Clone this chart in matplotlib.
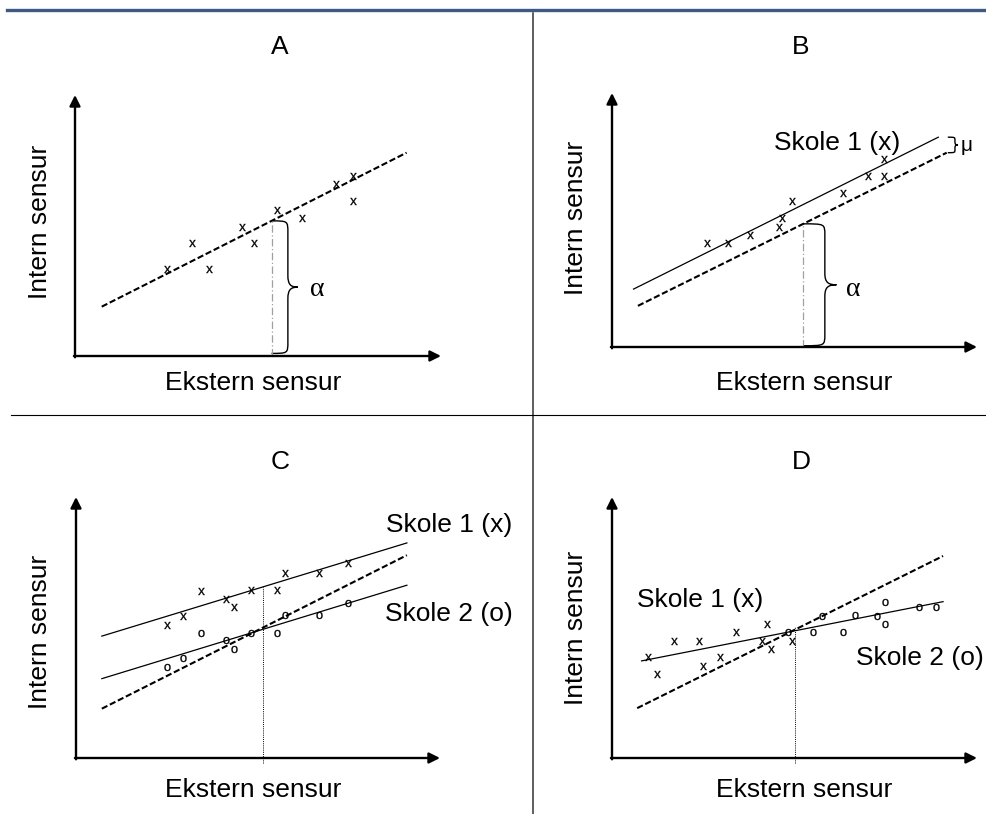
import matplotlib
matplotlib.use("Agg")
import matplotlib.pyplot as plt
from matplotlib.lines import Line2D
from matplotlib.path import Path
from matplotlib.patches import PathPatch
import numpy as np

plt.rcParams['font.family'] = ['Liberation Sans', 'DejaVu Sans']

FIG_W, FIG_H = 987, 814

# ------------------------------------------------------------
# Data (panel units: 0..10 on both axes, origin at axis corner)
# ------------------------------------------------------------

# Panel A: one common line, school 1 points
A_ref_x = [0.73, 9.06]
A_ref_y = [1.89, 7.79]
A_vline_x = 5.37
A_pts_x = [2.51, 3.20, 3.66, 4.57, 4.90, 5.51, 6.21, 7.12, 7.59, 7.59]
A_pts_y = [3.32, 4.34, 3.32, 4.95, 4.34, 5.59, 5.30, 6.59, 6.91, 5.94]

# Panel B: school 1 line shifted by mu above the reference line
B_s1_x = [0.59, 8.94]
B_s1_y = [2.28, 8.26]
B_ref_x = [0.71, 9.17]
B_ref_y = [1.62, 7.65]
B_vline_x = 5.24
B_pts_x = [2.60, 3.18, 3.78, 4.57, 4.67, 4.92, 6.32, 7.02, 7.45, 7.45]
B_pts_y = [4.09, 4.09, 4.42, 4.74, 5.07, 5.76, 6.06, 6.74, 7.42, 6.74]

# Panel C: two parallel school lines + reference
C_s1_x = [0.71, 9.09]
C_s1_y = [4.67, 8.24]
C_s2_x = [0.71, 9.09]
C_s2_y = [3.04, 6.62]
C_ref_x = [0.71, 9.09]
C_ref_y = [1.89, 7.77]
C_vline_x = 5.13
C_x_x = [2.51, 2.95, 3.44, 4.12, 4.35, 4.81, 5.52, 5.75, 6.68, 7.48]
C_x_y = [5.11, 5.44, 6.40, 6.11, 5.79, 6.43, 6.43, 7.07, 7.07, 7.49]
C_o_x = [2.51, 2.95, 3.44, 4.12, 4.35, 4.81, 5.52, 5.75, 6.68, 7.48]
C_o_y = [3.49, 3.83, 4.80, 4.51, 4.16, 4.80, 4.80, 5.47, 5.47, 5.94]

# Panel D: flatter common line, schools on each side
D_s_x = [0.81, 9.07]
D_s_y = [3.72, 5.99]
D_ref_x = [0.69, 9.07]
D_ref_y = [1.91, 7.74]
D_vline_x = 5.01
D_vline_top = 5.03
D_x_x = [0.99, 1.22, 1.69, 2.38, 2.50, 2.96, 3.41, 4.24, 4.12, 4.35, 4.94]
D_x_y = [3.88, 3.22, 4.50, 4.50, 3.53, 3.86, 4.82, 5.13, 4.50, 4.17, 4.50]
D_o_x = [4.81, 5.52, 5.76, 6.32, 6.66, 7.26, 7.48, 7.48, 8.40, 8.87]
D_o_y = [4.84, 4.82, 5.45, 4.82, 5.48, 5.45, 5.96, 5.12, 5.79, 5.79]

TITLES = ["A", "B", "C", "D"]
XLABEL = "Ekstern sensur"
YLABEL = "Intern sensur"


# ------------------------------------------------------------
# Helpers
# ------------------------------------------------------------

def px(x, y):
    return x / FIG_W, 1 - y / FIG_H


def make_axes(fig, ox, oy, tip_x, tip_y):
    w = tip_x - ox
    h = oy - tip_y
    ax = fig.add_axes([ox / FIG_W, 1 - oy / FIG_H, w / FIG_W, h / FIG_H])
    ax.set_xlim(0, 10)
    ax.set_ylim(0, 10)
    ax.axis("off")
    arrow = dict(arrowstyle="-|>", color="black", lw=1.7, mutation_scale=16,
                 shrinkA=0, shrinkB=0)
    ax.annotate("", xy=(10, 0), xytext=(-0.03, 0), arrowprops=arrow,
                annotation_clip=False)
    ax.annotate("", xy=(0, 10), xytext=(0, -0.05), arrowprops=arrow,
                annotation_clip=False)
    return ax


def interp(xs, ys, x):
    return float(np.interp(x, xs, ys))


def brace(ax, x0, y0, y1, w, r, frac=0.62, lw=1.0):
    xm = x0 + frac * w
    xt = x0 + w
    ym = (y0 + y1) / 2
    verts = [(x0, y1), (xm, y1), (xm, y1), (xm, y1 - r),
             (xm, ym + r),
             (xm, ym + r * 0.2), (xm + (xt - xm) * 0.3, ym), (xt, ym),
             (xm + (xt - xm) * 0.3, ym), (xm, ym - r * 0.2), (xm, ym - r),
             (xm, y0 + r),
             (xm, y0), (xm, y0), (x0, y0)]
    codes = [Path.MOVETO, Path.CURVE4, Path.CURVE4, Path.CURVE4,
             Path.LINETO,
             Path.CURVE4, Path.CURVE4, Path.CURVE4,
             Path.CURVE4, Path.CURVE4, Path.CURVE4,
             Path.LINETO,
             Path.CURVE4, Path.CURVE4, Path.CURVE4]
    ax.add_patch(PathPatch(Path(verts, codes), fill=False, lw=lw,
                           edgecolor="black", clip_on=False))


def pts(ax, xs, ys, glyph):
    ax.scatter(xs, ys, marker="$\\mathregular{%s}$" % glyph, s=26,
               color="black", linewidths=0.2, clip_on=False, zorder=3)


ref_style = dict(color="black", lw=1.5, linestyle=(0, (3, 1.3)), clip_on=False)
solid_style = dict(color="black", lw=0.9, clip_on=False)
gray_vline = dict(color="#a0a0a0", lw=0.9, linestyle=(0, (6, 2, 1, 2)), clip_on=False)
dot_vline = dict(color="black", lw=0.7, linestyle=(0, (1, 1.2)), clip_on=False)

fig = plt.figure(figsize=(FIG_W / 100, FIG_H / 100), dpi=100)

# frame lines
fig.add_artist(Line2D([px(7, 0)[0], px(987, 0)[0]], [px(0, 9.5)[1]] * 2,
                      transform=fig.transFigure, color="#3e5a84", lw=2.4))
fig.add_artist(Line2D([px(533, 0)[0]] * 2, [px(0, 13)[1], px(0, 814)[1]],
                      transform=fig.transFigure, color="#333333", lw=1.1))
fig.add_artist(Line2D([px(11, 0)[0], px(987, 0)[0]], [px(0, 415)[1]] * 2,
                      transform=fig.transFigure, color="black", lw=0.8))

FS = 19

# titles and axis labels
for title, (tx, ty) in zip(TITLES, [(280, 47), (801, 47), (280, 462), (801, 462)]):
    fig.text(*px(tx, ty), title, ha="center", va="center", fontsize=FS)
for lx, ly in [(253, 383), (804, 383), (253, 790), (804, 790)]:
    fig.text(*px(lx, ly), XLABEL, ha="center", va="center", fontsize=FS)
for lx, ly in [(40, 222), (576, 218), (40, 632), (576, 628)]:
    fig.text(*px(lx, ly), YLABEL, ha="center", va="center", fontsize=FS,
             rotation=90)

# ---------------- Panel A ----------------
axA = make_axes(fig, 75, 356, 441, 95)
axA.plot(A_ref_x, A_ref_y, **ref_style)
topA = interp(A_ref_x, A_ref_y, A_vline_x)
axA.plot([A_vline_x, A_vline_x], [0, topA], **gray_vline)
brace(axA, A_vline_x, 0.1, topA, 0.72, 0.45)
pts(axA, A_pts_x, A_pts_y, "x")
axA.text(6.62, 2.55, "α", ha="center", va="center", fontsize=20,
         family=["Liberation Serif", "DejaVu Serif"])

# ---------------- Panel B ----------------
axB = make_axes(fig, 612, 347, 977, 93)
axB.plot(B_s1_x, B_s1_y, **solid_style)
axB.plot(B_ref_x, B_ref_y, **ref_style)
topB = interp(B_ref_x, B_ref_y, B_vline_x)
axB.plot([B_vline_x, B_vline_x], [0, topB], **gray_vline)
brace(axB, B_vline_x, 0.05, topB, 0.91, 0.45, frac=0.65)
brace(axB, 9.2, B_ref_y[-1], B_s1_y[-1], 0.28, 0.12, frac=0.7)
pts(axB, B_pts_x, B_pts_y, "x")
axB.text(6.62, 2.27, "α", ha="center", va="center", fontsize=20,
         family=["Liberation Serif", "DejaVu Serif"])
axB.text(9.55, 7.95, "μ", ha="left", va="center", fontsize=15)
fig.text(*px(837, 143), "Skole 1 (x)", ha="center", va="center", fontsize=FS)

# ---------------- Panel C ----------------
axC = make_axes(fig, 76, 758, 440, 497)
axC.plot(C_s1_x, C_s1_y, **solid_style)
axC.plot(C_s2_x, C_s2_y, **solid_style)
axC.plot(C_ref_x, C_ref_y, **ref_style)
topC = interp(C_s1_x, C_s1_y, C_vline_x)
axC.plot([C_vline_x, C_vline_x], [-0.2, topC], **dot_vline)
pts(axC, C_x_x, C_x_y, "x")
pts(axC, C_o_x, C_o_y, "o")
fig.text(*px(449, 525), "Skole 1 (x)", ha="center", va="center", fontsize=FS)
fig.text(*px(449, 614), "Skole 2 (o)", ha="center", va="center", fontsize=FS)

# ---------------- Panel D ----------------
axD = make_axes(fig, 612, 758, 977, 497)
axD.plot(D_s_x, D_s_y, **solid_style)
axD.plot(D_ref_x, D_ref_y, **ref_style)
axD.plot([D_vline_x, D_vline_x], [-0.2, D_vline_top], **dot_vline)
pts(axD, D_x_x, D_x_y, "x")
pts(axD, D_o_x, D_o_y, "o")
fig.text(*px(700, 600), "Skole 1 (x)", ha="center", va="center", fontsize=FS)
fig.text(*px(920, 658), "Skole 2 (o)", ha="center", va="center", fontsize=FS)

fig.savefig("out.png", dpi=100)
